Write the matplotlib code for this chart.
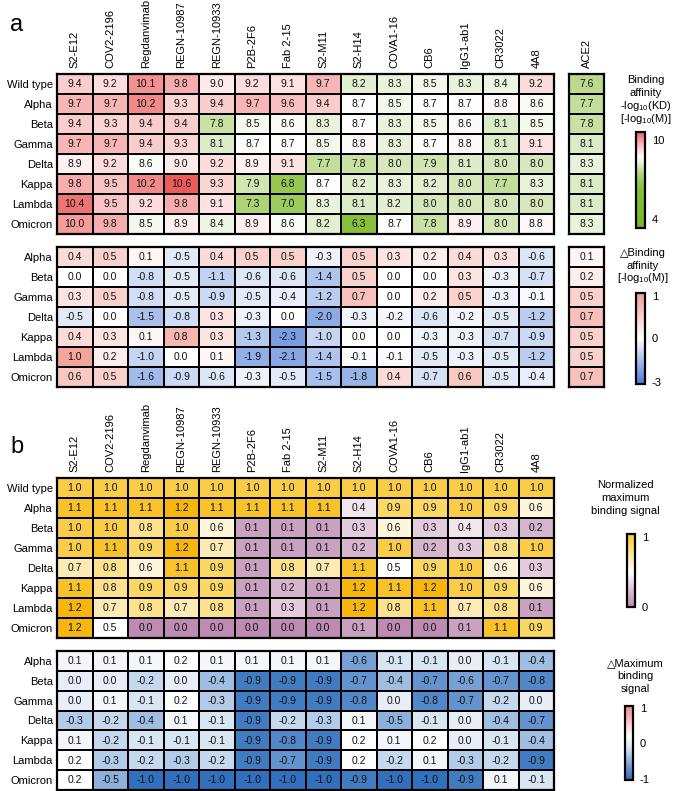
import numpy as np
import matplotlib
matplotlib.use('Agg')
import matplotlib.pyplot as plt
from matplotlib.colors import LinearSegmentedColormap, Normalize, TwoSlopeNorm
from matplotlib.cm import ScalarMappable

plt.rcParams['font.family'] = ['Liberation Sans', 'DejaVu Sans']
plt.rcParams['mathtext.fontset'] = 'custom'
plt.rcParams['mathtext.rm'] = 'Liberation Sans'
plt.rcParams['axes.unicode_minus'] = False

# ---------------- data ----------------
antibodies = ['S2-E12', 'COV2-2196', 'Regdanvimab', 'REGN-10987', 'REGN-10933',
              'P2B-2F6', 'Fab 2-15', 'S2-M11', 'S2-H14', 'COVA1-16', 'CB6',
              'IgG1-ab1', 'CR3022', '4A8']
receptor = ['ACE2']
variants_all = ['Wild type', 'Alpha', 'Beta', 'Gamma', 'Delta', 'Kappa', 'Lambda', 'Omicron']
variants = variants_all[1:]

affinity = [
    [9.4, 9.2, 10.1, 9.8, 9.0, 9.2, 9.1, 9.7, 8.2, 8.3, 8.5, 8.3, 8.4, 9.2],
    [9.7, 9.7, 10.2, 9.3, 9.4, 9.7, 9.6, 9.4, 8.7, 8.5, 8.7, 8.7, 8.8, 8.6],
    [9.4, 9.3, 9.4, 9.4, 7.8, 8.5, 8.6, 8.3, 8.7, 8.3, 8.5, 8.6, 8.1, 8.5],
    [9.7, 9.7, 9.4, 9.3, 8.1, 8.7, 8.7, 8.5, 8.8, 8.3, 8.7, 8.8, 8.1, 9.1],
    [8.9, 9.2, 8.6, 9.0, 9.2, 8.9, 9.1, 7.7, 7.8, 8.0, 7.9, 8.1, 8.0, 8.0],
    [9.8, 9.5, 10.2, 10.6, 9.3, 7.9, 6.8, 8.7, 8.2, 8.3, 8.2, 8.0, 7.7, 8.3],
    [10.4, 9.5, 9.2, 9.8, 9.1, 7.3, 7.0, 8.3, 8.1, 8.2, 8.0, 8.0, 8.0, 8.0],
    [10.0, 9.8, 8.5, 8.9, 8.4, 8.9, 8.6, 8.2, 6.3, 8.7, 7.8, 8.9, 8.0, 8.8],
]
ace2_affinity = [7.6, 7.7, 7.8, 8.1, 8.3, 8.1, 8.1, 8.3]

delta_affinity = [
    [0.4, 0.5, 0.1, -0.5, 0.4, 0.5, 0.5, -0.3, 0.5, 0.3, 0.2, 0.4, 0.3, -0.6],
    [0.0, 0.0, -0.8, -0.5, -1.1, -0.6, -0.6, -1.4, 0.5, 0.0, 0.0, 0.3, -0.3, -0.7],
    [0.3, 0.5, -0.8, -0.5, -0.9, -0.5, -0.4, -1.2, 0.7, 0.0, 0.2, 0.5, -0.3, -0.1],
    [-0.5, 0.0, -1.5, -0.8, 0.3, -0.3, 0.0, -2.0, -0.3, -0.2, -0.6, -0.2, -0.5, -1.2],
    [0.4, 0.3, 0.1, 0.8, 0.3, -1.3, -2.3, -1.0, 0.0, 0.0, -0.3, -0.3, -0.7, -0.9],
    [1.0, 0.2, -1.0, 0.0, 0.1, -1.9, -2.1, -1.4, -0.1, -0.1, -0.5, -0.3, -0.5, -1.2],
    [0.6, 0.5, -1.6, -0.9, -0.6, -0.3, -0.5, -1.5, -1.8, 0.4, -0.7, 0.6, -0.5, -0.4],
]
ace2_delta = [0.1, 0.2, 0.5, 0.7, 0.5, 0.5, 0.7]

max_signal = [
    [1.0, 1.0, 1.0, 1.0, 1.0, 1.0, 1.0, 1.0, 1.0, 1.0, 1.0, 1.0, 1.0, 1.0],
    [1.1, 1.1, 1.1, 1.2, 1.1, 1.1, 1.1, 1.1, 0.4, 0.9, 0.9, 1.0, 0.9, 0.6],
    [1.0, 1.0, 0.8, 1.0, 0.6, 0.1, 0.1, 0.1, 0.3, 0.6, 0.3, 0.4, 0.3, 0.2],
    [1.0, 1.1, 0.9, 1.2, 0.7, 0.1, 0.1, 0.1, 0.2, 1.0, 0.2, 0.3, 0.8, 1.0],
    [0.7, 0.8, 0.6, 1.1, 0.9, 0.1, 0.8, 0.7, 1.1, 0.5, 0.9, 1.0, 0.6, 0.3],
    [1.1, 0.8, 0.9, 0.9, 0.9, 0.1, 0.2, 0.1, 1.2, 1.1, 1.2, 1.0, 0.9, 0.6],
    [1.2, 0.7, 0.8, 0.7, 0.8, 0.1, 0.3, 0.1, 1.2, 0.8, 1.1, 0.7, 0.8, 0.1],
    [1.2, 0.5, 0.0, 0.0, 0.0, 0.0, 0.0, 0.0, 0.1, 0.0, 0.0, 0.1, 1.1, 0.9],
]

delta_signal = [
    [0.1, 0.1, 0.1, 0.2, 0.1, 0.1, 0.1, 0.1, -0.6, -0.1, -0.1, 0.0, -0.1, -0.4],
    [0.0, 0.0, -0.2, 0.0, -0.4, -0.9, -0.9, -0.9, -0.7, -0.4, -0.7, -0.6, -0.7, -0.8],
    [0.0, 0.1, -0.1, 0.2, -0.3, -0.9, -0.9, -0.9, -0.8, 0.0, -0.8, -0.7, -0.2, 0.0],
    [-0.3, -0.2, -0.4, 0.1, -0.1, -0.9, -0.2, -0.3, 0.1, -0.5, -0.1, 0.0, -0.4, -0.7],
    [0.1, -0.2, -0.1, -0.1, -0.1, -0.9, -0.8, -0.9, 0.2, 0.1, 0.2, 0.0, -0.1, -0.4],
    [0.2, -0.3, -0.2, -0.3, -0.2, -0.9, -0.7, -0.9, 0.2, -0.2, 0.1, -0.3, -0.2, -0.9],
    [0.2, -0.5, -1.0, -1.0, -1.0, -1.0, -1.0, -1.0, -0.9, -1.0, -1.0, -0.9, 0.1, -0.1],
]

# ---------------- styles ----------------
def value_cmap(name, nodes, vmin, vmax):
    pts = [((v - vmin) / (vmax - vmin), c) for v, c in nodes]
    return LinearSegmentedColormap.from_list(name, pts)

AFF_MIN, AFF_MAX = 3.3, 10.6
cmap_aff = value_cmap('aff', [(3.3, '#76B626'), (6.3, '#88C03C'), (7.0, '#9DCC5E'),
                              (7.6, '#BCDA8E'), (8.2, '#E3EFD2'), (8.7, '#FFFFFF'),
                              (9.2, '#FCDCDC'), (9.7, '#F8B6B6'), (10.2, '#F28A8A'),
                              (10.6, '#EC5C5C')], AFF_MIN, AFF_MAX)
norm_aff = Normalize(AFF_MIN, AFF_MAX)

cmap_daff = LinearSegmentedColormap.from_list('daff', [(0, '#4A7BD6'), (0.5, '#FFFFFF'), (1, '#F29E94')])
norm_daff = TwoSlopeNorm(vmin=-3.15, vcenter=0, vmax=1.08)

SIG_MIN, SIG_MAX = 0.0, 1.25
cmap_sig = value_cmap('sig', [(0.0, '#BE8CB2'), (0.1, '#C9A1C1'), (0.3, '#E3CCDD'),
                              (0.5, '#FFFFFF'), (0.7, '#FDEBB5'), (0.9, '#FBD865'),
                              (1.0, '#FACD48'), (1.1, '#F8C22C'), (1.25, '#F5B000')],
                      SIG_MIN, SIG_MAX)
norm_sig = Normalize(SIG_MIN, SIG_MAX)

DS_MIN, DS_MAX = -1.05, 1.05
cmap_dsig = value_cmap('dsig', [(-1.05, '#2A69B8'), (-1.0, '#3070BD'), (-0.7, '#6494CF'),
                                (-0.4, '#9FBEE2'), (-0.1, '#D9E6F3'), (0.0, '#E6EEF7'),
                                (0.2, '#FFFFFF'), (1.05, '#F08888')], DS_MIN, DS_MAX)
norm_dsig = Normalize(DS_MIN, DS_MAX)

W, H = 674, 791
fig = plt.figure(figsize=(W / 100, H / 100), dpi=100)
fig.patch.set_facecolor('white')

def pax(l, t, r, b):
    return fig.add_axes([l / W, 1 - b / H, (r - l) / W, (b - t) / H])

def heat(ax, data, cmap, norm, rows=None, cols=None):
    data = np.asarray(data, float)
    if data.ndim == 1:
        data = data[:, None]
    m, n = data.shape
    ax.pcolormesh(np.arange(n + 1), np.arange(m + 1), data, cmap=cmap, norm=norm,
                  edgecolors='black', linewidth=1.2)
    ax.set_xlim(0, n)
    ax.set_ylim(m, 0)
    for i in range(m):
        for j in range(n):
            ax.text(j + 0.5, i + 0.52, f"{data[i, j]:.1f}", ha='center', va='center',
                    fontsize=7.5, color='#111111')
    ax.tick_params(length=0)
    if rows is not None:
        ax.set_yticks(np.arange(m) + 0.5)
        ax.set_yticklabels(rows, fontsize=8)
        ax.tick_params(axis='y', pad=3)
    else:
        ax.set_yticks([])
    if cols is not None:
        ax.xaxis.tick_top()
        ax.set_xticks(np.arange(n) + 0.5)
        ax.set_xticklabels(cols, rotation=90, fontsize=8)
        ax.tick_params(axis='x', pad=4.5)
    else:
        ax.set_xticks([])
    for s in ax.spines.values():
        s.set_linewidth(1.6)

def cbar(l, t, r, b, cmap, norm, ticks, ylim=None):
    cax = pax(l, t, r, b)
    cb = fig.colorbar(ScalarMappable(norm=norm, cmap=cmap), cax=cax, ticks=ticks)
    cb.outline.set_linewidth(1.6)
    cax.tick_params(length=0, labelsize=8, pad=5)
    if ylim is not None:
        cax.set_ylim(*ylim)
    return cb

def title_lines(x, ys, lines):
    for y, s in zip(ys, lines):
        fig.text(x / W, 1 - y / H, s, ha='center', va='center', fontsize=8)

# ---------------- panel a ----------------
L, R = 57, 554
ax = pax(L, 74, R, 234)
heat(ax, affinity, cmap_aff, norm_aff, rows=variants_all, cols=antibodies)
ax = pax(569, 74, 604, 234)
heat(ax, ace2_affinity, cmap_aff, norm_aff, cols=receptor)

ax = pax(L, 247, R, 387)
heat(ax, delta_affinity, cmap_daff, norm_daff, rows=variants)
ax = pax(569, 247, 604, 387)
heat(ax, ace2_delta, cmap_daff, norm_daff)

cbar(636, 132, 645, 228, cmap_aff, norm_aff, [4, 10])
title_lines(646, [80, 93, 106, 119],
            ['Binding', 'affinity', r'-log$_{10}$(KD)', r'[-log$_{10}$(M)]'])

cbar(636, 293, 645, 384, cmap_daff, norm_daff, [-3, 0, 1])
title_lines(643, [253, 266, 278],
            ['\u25b3Binding', 'affinity', r'[-log$_{10}$(M)]'])

# ---------------- panel b ----------------
ax = pax(L, 478, R, 638)
heat(ax, max_signal, cmap_sig, norm_sig, rows=variants_all, cols=antibodies)
ax = pax(L, 651, R, 790)
heat(ax, delta_signal, cmap_dsig, norm_dsig, rows=variants)

cbar(627, 534, 635, 607, cmap_sig, norm_sig, [0, 1], ylim=(0, 1.05))
title_lines(625, [485, 498, 511], ['Normalized', 'maximum', 'binding signal'])

cbar(625, 706, 633, 780, cmap_dsig, norm_dsig, [-1, 0, 1], ylim=(-1.03, 1.05))
title_lines(635, [663, 676, 689], ['\u25b3Maximum', 'binding', 'signal'])

fig.text(10 / W, 1 - 31 / H, 'a', fontsize=17, ha='left', va='baseline')
fig.text(10 / W, 1 - 453 / H, 'b', fontsize=17, ha='left', va='baseline')

fig.savefig('out.png', dpi=100, facecolor='white')
